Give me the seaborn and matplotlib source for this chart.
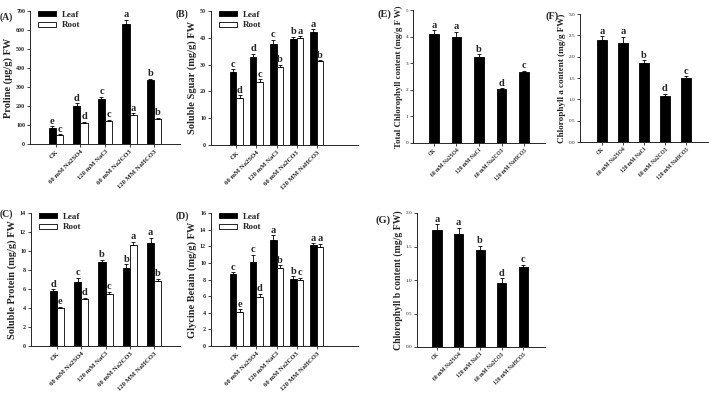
import pandas as pd
import seaborn as sns
import matplotlib.pyplot as plt
from matplotlib.patches import Patch

sns.set_style("ticks")
plt.rcParams['font.family'] = ['Liberation Serif', 'DejaVu Serif']
plt.rcParams['font.weight'] = 'bold'

treat = ["CK", "60 mM Na2SO4", "120 mM NaCl", "60 mM Na2CO3", "120 MM NaHCO3"]
treat_chl = ["CK", "60 mM Na2SO4", "120 mM NaCl", "60 mM Na2CO3", "120 mM NaHCO3"]

# (A) proline
pro_leaf = [84, 200, 238, 630, 335]
pro_root = [45, 110, 121, 153, 132]
pro_leaf_err = [10, 14, 12, 25, 8]
pro_root_err = [6, 7, 6, 8, 6]
pro_leaf_let = ["e", "d", "c", "a", "b"]
pro_root_let = ["c", "d", "c", "a", "b"]

# (B) soluble sugar
sug_leaf = [27.4, 32.8, 37.8, 39.6, 42.2]
sug_root = [17.4, 23.6, 29.1, 40.0, 31.2]
sug_leaf_err = [0.8, 1.2, 1.5, 0.8, 1.0]
sug_root_err = [1.2, 1.0, 0.8, 0.5, 0.5]
sug_leaf_let = ["c", "d", "c", "b", "a"]
sug_root_let = ["d", "c", "b", "a", "b"]

# (C) soluble protein
prot_leaf = [5.8, 6.7, 8.8, 8.2, 10.8]
prot_root = [4.0, 4.9, 5.5, 10.6, 6.8]
prot_leaf_err = [0.2, 0.5, 0.3, 0.4, 0.6]
prot_root_err = [0.15, 0.2, 0.2, 0.4, 0.3]
prot_leaf_let = ["d", "c", "b", "b", "a"]
prot_root_let = ["e", "d", "c", "a", "b"]

# (D) glycine betaine
gb_leaf = [8.7, 10.1, 12.8, 8.1, 12.1]
gb_root = [4.1, 5.9, 9.4, 8.0, 11.9]
gb_leaf_err = [0.2, 0.9, 0.5, 0.3, 0.3]
gb_root_err = [0.3, 0.4, 0.3, 0.2, 0.4]
gb_leaf_let = ["c", "c", "a", "b", "a"]
gb_root_let = ["e", "d", "b", "c", "a"]

# (E)-(G) chlorophyll
chl_tot = [4.1, 4.0, 3.25, 2.02, 2.66]
chl_tot_err = [0.15, 0.18, 0.08, 0.05, 0.05]
chl_a = [2.38, 2.32, 1.85, 1.08, 1.5]
chl_a_err = [0.1, 0.15, 0.07, 0.05, 0.04]
chl_b = [1.75, 1.68, 1.45, 0.95, 1.2]
chl_b_err = [0.08, 0.1, 0.06, 0.08, 0.03]
chl_let = ["a", "a", "b", "d", "c"]

W, H = 709, 394
fig = plt.figure(figsize=(W / 100, H / 100), dpi=100)


def make_ax(left, top, right, bottom):
    return fig.add_axes([left / W, 1 - bottom / H, (right - left) / W, (bottom - top) / H])


def style(ax, ylim, yticks, ylabel, xlim, xlabels, lab_size=7.5, yfmt=None):
    ax.set_ylim(*ylim)
    ax.set_yticks(yticks)
    if yfmt:
        ax.set_yticklabels([yfmt.format(t) for t in yticks])
    ax.set_xlim(*xlim)
    ax.set_xticks(range(5))
    ax.set_xticklabels(xlabels, rotation=45, ha='right', rotation_mode='anchor',
                       fontsize=4.8, fontweight='bold')
    ax.tick_params(axis='y', labelsize=4.3, length=2, width=0.6, pad=1.5)
    ax.tick_params(axis='x', length=2, width=0.6, pad=1.5)
    ax.set_xlabel("")
    ax.set_ylabel(ylabel, fontsize=lab_size, fontweight='bold', labelpad=2)
    sns.despine(ax=ax)
    for s in ['left', 'bottom']:
        ax.spines[s].set_linewidth(0.7)


def grouped(ax, leaf, root, leaf_err, root_err, leaf_let, root_let, width):
    df = pd.DataFrame({
        "treat": treat * 2,
        "val": leaf + root,
        "tissue": ["Leaf"] * 5 + ["Root"] * 5,
    })
    sns.barplot(data=df, x="treat", y="val", hue="tissue", ax=ax,
                palette={"Leaf": "black", "Root": "white"}, edgecolor="black",
                linewidth=0.6, width=width, errorbar=None, legend=False)
    for cont, vals, errs, lets in zip(ax.containers, [leaf, root],
                                      [leaf_err, root_err], [leaf_let, root_let]):
        xs = [b.get_x() + b.get_width() / 2 for b in cont]
        ax.errorbar(xs, vals, yerr=[[0] * 5, errs], fmt='none', ecolor='black',
                    elinewidth=0.6, capsize=1.2, capthick=0.6)
        for x, v, e, t in zip(xs, vals, errs, lets):
            ax.annotate(t, (x, v + e), xytext=(0, 0.3), textcoords='offset points',
                        ha='center', va='bottom', fontsize=7.5, fontweight='bold')
    ax.legend(handles=[Patch(facecolor='black', edgecolor='black', linewidth=0.6, label='Leaf'),
                       Patch(facecolor='white', edgecolor='black', linewidth=0.6, label='Root')],
              loc='upper left', bbox_to_anchor=(0.03, 1.03), frameon=False,
              prop={'size': 6.5, 'weight': 'bold'}, handlelength=2.0, handleheight=0.45,
              labelspacing=0.3, handletextpad=0.6, borderaxespad=0)


def single(ax, vals, errs, lets, width):
    df = pd.DataFrame({"treat": treat_chl, "val": vals})
    sns.barplot(data=df, x="treat", y="val", ax=ax, color="black", edgecolor="black",
                linewidth=0.6, width=width, errorbar=None)
    xs = list(range(5))
    ax.errorbar(xs, vals, yerr=[[0] * 5, errs], fmt='none', ecolor='black',
                elinewidth=0.6, capsize=1.2, capthick=0.6)
    for x, v, e, t in zip(xs, vals, errs, lets):
        ax.annotate(t, (x, v + e), xytext=(0, 0.3), textcoords='offset points',
                    ha='center', va='bottom', fontsize=7.5, fontweight='bold')


# (A)
axA = make_ax(30, 11, 180, 144)
grouped(axA, pro_leaf, pro_root, pro_leaf_err, pro_root_err, pro_leaf_let, pro_root_let, 0.58)
style(axA, (0, 700), range(0, 701, 100), "Proline (\u03bcg/g) FW", (-1.06, 5.06), treat)
fig.text(0 / W, 1 - 17 / H, "(A)", fontsize=7, fontweight='bold', ha='left', va='center')

# (B)
axB = make_ax(211, 11, 358, 145)
grouped(axB, sug_leaf, sug_root, sug_leaf_err, sug_root_err, sug_leaf_let, sug_root_let, 0.66)
style(axB, (0, 50), range(0, 51, 10), "Soluble Sguar (mg/g) FW", (-1.26, 6.05), treat)
fig.text(176 / W, 1 - 14 / H, "(B)", fontsize=7, fontweight='bold', ha='left', va='center')

# (C)
axC = make_ax(31, 213, 180, 346)
grouped(axC, prot_leaf, prot_root, prot_leaf_err, prot_root_err, prot_leaf_let, prot_root_let, 0.58)
style(axC, (0, 14), range(0, 15, 2), "Soluble Protein (mg/g) FW", (-1.06, 5.06), treat)
fig.text(0 / W, 1 - 214 / H, "(C)", fontsize=7, fontweight='bold', ha='left', va='center')

# (D)
axD = make_ax(211, 213, 358, 346)
grouped(axD, gb_leaf, gb_root, gb_leaf_err, gb_root_err, gb_leaf_let, gb_root_let, 0.66)
style(axD, (0, 16), range(0, 17, 2), "Glycine Betain (mg/g) FW", (-1.26, 6.05), treat)
fig.text(176 / W, 1 - 216 / H, "(D)", fontsize=7, fontweight='bold', ha='left', va='center')

# (E)
axE = make_ax(413, 10, 545, 143)
single(axE, chl_tot, chl_tot_err, chl_let, 0.42)
style(axE, (0, 5), range(0, 6), "Total Chlorophyll content (mg/g F W)", (-0.93, 4.93),
      treat_chl, lab_size=6.4)
fig.text(378 / W, 1 - 14 / H, "(E)", fontsize=7.5, fontweight='bold', ha='left', va='center')

# (F)
axF = make_ax(580, 14, 708, 142)
single(axF, chl_a, chl_a_err, chl_let, 0.45)
style(axF, (0, 3), [0, 0.5, 1, 1.5, 2, 2.5, 3], "Chlorophyll a content (mg/g FW)",
      (-1.05, 5.05), treat_chl, lab_size=6.6, yfmt="{:.1f}")
fig.text(545 / W, 1 - 16 / H, "(F)", fontsize=7.5, fontweight='bold', ha='left', va='center')

# (G)
axG = make_ax(417, 213, 545, 347)
single(axG, chl_b, chl_b_err, chl_let, 0.42)
style(axG, (0, 2), [0, 0.5, 1, 1.5, 2], "Chlorophyll b content (mg/g FW)",
      (-0.93, 5.02), treat_chl, lab_size=7.0, yfmt="{:.1f}")
fig.text(376 / W, 1 - 220 / H, "(G)", fontsize=7.5, fontweight='bold', ha='left', va='center')

for ax in [axE, axF, axG]:
    ax.tick_params(axis='y', labelsize=3.8)
    for lbl in ax.get_yticklabels():
        lbl.set_fontweight('normal')
    for lbl in ax.get_xticklabels():
        lbl.set_fontsize(4.0)

fig.savefig("out.png", dpi=100)
